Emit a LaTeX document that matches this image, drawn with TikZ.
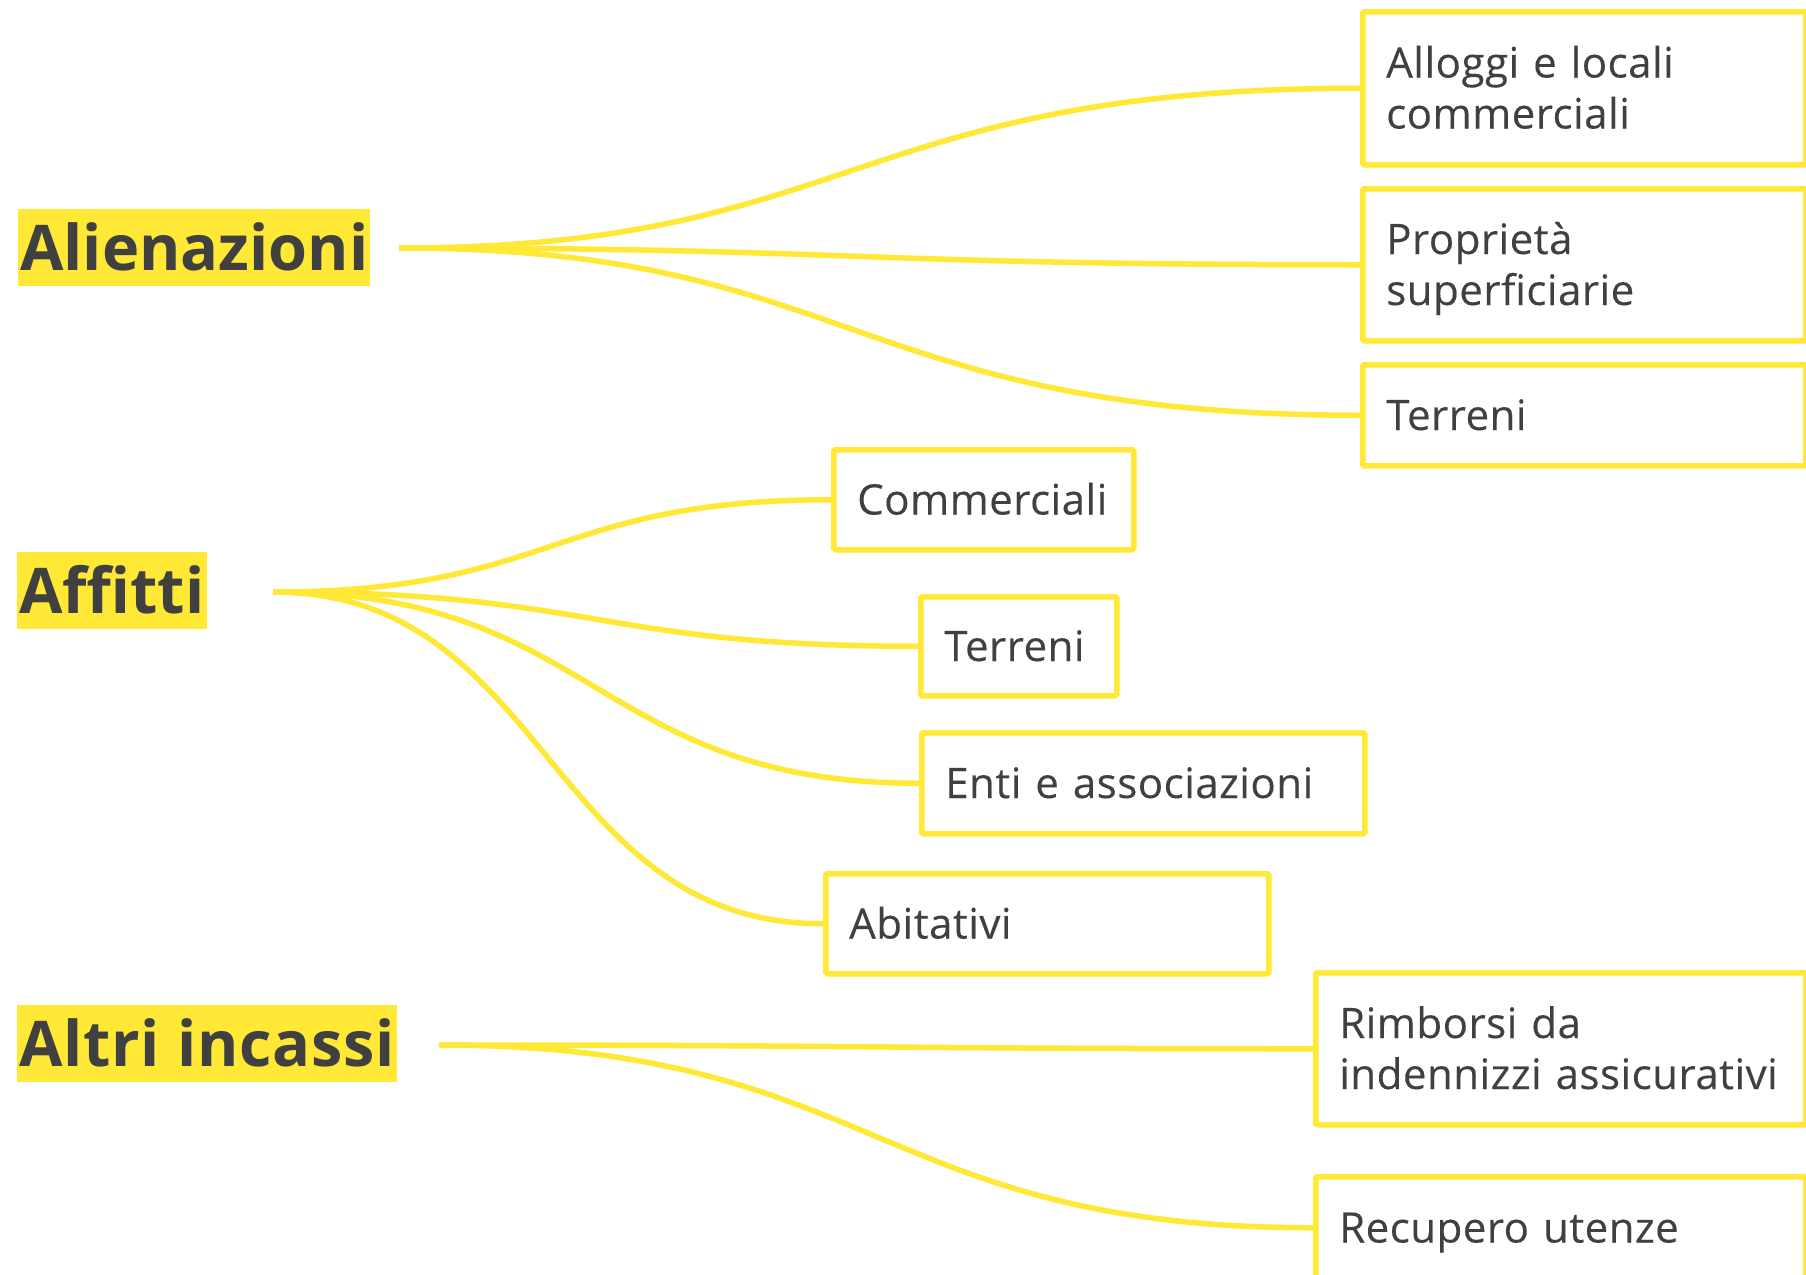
\documentclass[tikz,border=0pt]{standalone}
\usepackage{fontspec}
\setmainfont{Open Sans}
\newfontfamily\boxfont[LetterSpace=1.2,FakeBold=0.25]{Open Sans}
\definecolor{hl}{RGB}{255,232,54}
\definecolor{ink}{RGB}{64,64,64}
\begin{document}
\begin{tikzpicture}[x=1pt,y=-1pt,
  conn/.style={draw=hl, line width=5.5pt},
  box/.style={draw=hl, line width=5.5pt, rounded corners=1.5pt, anchor=north west,
    inner xsep=23.5pt, inner ysep=0pt, align=left, text=ink,
    font=\boxfont\fontsize{42}{51}\selectfont, text height=29.5pt, text depth=0pt},
  twoline/.style={text depth=51pt},
  head/.style={fill=hl, text=ink, font=\fontsize{63}{63}\selectfont\bfseries,
    inner xsep=2pt, inner ysep=16pt, text height=45pt, text depth=0pt, anchor=base west}]
\useasboundingbox (0,0) rectangle (1806,1274);
\clip (0,0) rectangle (1806,1274);

% headings
\node[head] (alien) at (18,270) {Alienazioni};
\node[head] (affitti) at (17,613) {Affitti};
\node[head] (altri) at (17,1066) {\addfontfeature{LetterSpace=1.2}Altri incassi};

\coordinate (alS) at (399,248);
\coordinate (afS) at (273,592);
\coordinate (atS) at (439,1045);

% Alienazioni
\node[box, twoline, minimum width=443pt, minimum height=153pt, text width=396pt] (b1) at (1360,9) {Alloggi e locali\\commerciali};
\node[box, twoline, minimum width=443pt, minimum height=152pt, text width=396pt] (b2) at (1360,186) {Proprietà\\superficiarie};
\node[box, minimum width=443pt, minimum height=101pt, text width=396pt] (b3) at (1360,362) {Terreni};

% Affitti
\node[box, minimum width=300pt, minimum height=100pt, text width=253pt] (c1) at (831,447) {Commerciali};
\node[box, minimum width=196pt, minimum height=99pt, text width=149pt] (c2) at (918,594) {Terreni};
\node[box, minimum width=443pt, minimum height=101pt, text width=396pt] (c3) at (919,730) {Enti~e~associazioni};
\node[box, minimum width=443pt, minimum height=100pt, text width=396pt] (c4) at (823,871) {Abitativi};

% Altri incassi
\node[box, twoline, minimum width=490pt, minimum height=152pt, text width=443pt] (d1) at (1313,970) {Rimborsi~da\\indennizzi~assicurativi};
\node[box, minimum width=490pt, minimum height=102pt, text width=443pt] (d2) at (1313,1174) {Recupero~utenze};

% connectors
\draw[conn] (alS) .. controls +(455,0) and +(-510,0) .. (b1.west);
\draw[conn] (alS) .. controls +(455,0) and +(-510,0) .. (b2.west);
\draw[conn] (alS) .. controls +(455,0) and +(-510,0) .. (b3.west);

\draw[conn] (afS) .. controls +(280,0) and +(-280,0) .. (c1.west);
\draw[conn] (afS) .. controls +(323,0) and +(-323,0) .. (c2.west);
\draw[conn] (afS) .. controls +(324,0) and +(-324,0) .. (c3.west);
\draw[conn] (afS) .. controls +(276,0) and +(-276,0) .. (c4.west);

\draw[conn] (atS) .. controls +(438,0) and +(-438,0) .. (d1.west);
\draw[conn] (atS) .. controls +(438,0) and +(-438,0) .. (d2.west);
\end{tikzpicture}
\end{document}
